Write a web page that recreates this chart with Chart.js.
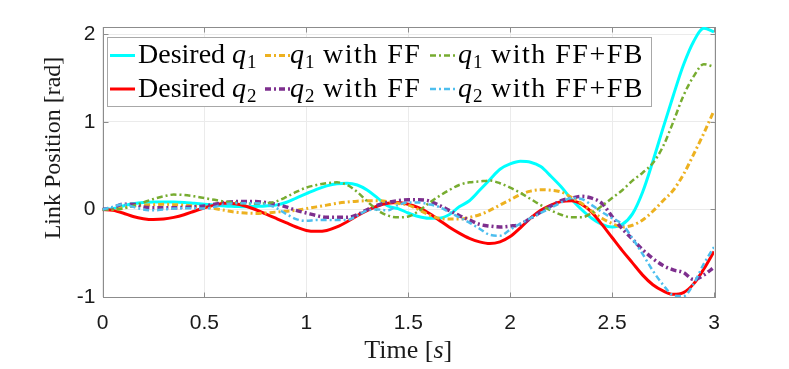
<!DOCTYPE html>
<html>
<head>
<meta charset="utf-8">
<script src="https://cdn.jsdelivr.net/npm/chart.js@4.4.1/dist/chart.umd.min.js"></script>
<style>
  html, body { margin: 0; padding: 0; background: #fff; }
  #wrap { width: 789px; height: 369px; }
</style>
</head>
<body>
<div id="wrap"><canvas id="myChart" width="789" height="369"></canvas></div>
<script>
// time samples [s]
const time = [0, 0.05, 0.1, 0.15, 0.2, 0.25, 0.3, 0.35, 0.4, 0.45, 0.5, 0.55, 0.6, 0.65, 0.7, 0.75, 0.8, 0.85, 0.9, 0.95,
  1.0, 1.05, 1.1, 1.15, 1.2, 1.25, 1.3, 1.35, 1.4, 1.45, 1.5, 1.55, 1.6, 1.65, 1.7, 1.75, 1.8, 1.85, 1.9, 1.95,
  2.0, 2.05, 2.1, 2.15, 2.2, 2.25, 2.3, 2.35, 2.4, 2.45, 2.5, 2.55, 2.6, 2.65, 2.7, 2.75, 2.8, 2.85, 2.9, 2.95, 3.0];

// link positions [rad]
const q1Desired = [0, 0.01, 0.04, 0.065, 0.08, 0.085, 0.085, 0.085, 0.08, 0.07, 0.06, 0.05, 0.04, 0.035, 0.03, 0.035, 0.04, 0.05, 0.08, 0.13,
  0.18, 0.23, 0.27, 0.295, 0.30, 0.28, 0.22, 0.13, 0.04, 0.01, -0.04, -0.08, -0.10, -0.10, -0.06, 0.03, 0.10, 0.22, 0.34, 0.46,
  0.52, 0.55, 0.54, 0.49, 0.38, 0.26, 0.12, 0.0, -0.1, -0.17, -0.2, -0.17, -0.05, 0.2, 0.55, 0.93, 1.3, 1.65, 1.92, 2.07, 2.03];
const q1FF = [0, 0, 0.02, 0.04, 0.05, 0.055, 0.06, 0.055, 0.05, 0.04, 0.03, 0.01, -0.01, -0.03, -0.04, -0.045, -0.04, -0.03, -0.02, -0.01,
  0.01, 0.03, 0.05, 0.07, 0.085, 0.095, 0.1, 0.1, 0.09, 0.07, 0.05, 0.0, -0.06, -0.1, -0.11, -0.11, -0.09, -0.06, -0.01, 0.05,
  0.11, 0.17, 0.21, 0.225, 0.22, 0.2, 0.14, 0.07, -0.02, -0.1, -0.16, -0.2, -0.18, -0.12, -0.02, 0.1, 0.22, 0.4, 0.63, 0.87, 1.13];
const q1FFFB = [0, 0, 0.01, 0.04, 0.08, 0.12, 0.15, 0.17, 0.165, 0.15, 0.13, 0.11, 0.09, 0.08, 0.07, 0.065, 0.07, 0.09, 0.14, 0.2,
  0.25, 0.28, 0.30, 0.31, 0.28, 0.2, 0.09, -0.01, -0.07, -0.09, -0.08, -0.02, 0.07, 0.15, 0.22, 0.28, 0.31, 0.32, 0.33, 0.3,
  0.25, 0.19, 0.12, 0.05, -0.01, -0.06, -0.09, -0.09, -0.04, 0.04, 0.13, 0.22, 0.33, 0.42, 0.53, 0.72, 1.0, 1.3, 1.52, 1.66, 1.63];
const q2Desired = [0, -0.01, -0.04, -0.08, -0.105, -0.115, -0.11, -0.09, -0.06, -0.02, 0.02, 0.05, 0.07, 0.065, 0.04, 0.0, -0.05, -0.1, -0.15, -0.2,
  -0.24, -0.25, -0.24, -0.2, -0.14, -0.07, -0.01, 0.04, 0.07, 0.08, 0.06, 0.02, -0.04, -0.12, -0.2, -0.27, -0.33, -0.37, -0.39, -0.37,
  -0.31, -0.21, -0.1, -0.01, 0.05, 0.09, 0.10, 0.06, -0.03, -0.17, -0.32, -0.47, -0.61, -0.75, -0.86, -0.93, -0.97, -0.95, -0.85, -0.68, -0.48];
const q2FF = [0, 0.02, 0.06, 0.06, 0.03, 0.02, 0.02, 0.02, 0.025, 0.03, 0.04, 0.06, 0.08, 0.09, 0.09, 0.09, 0.08, 0.06, 0.03, -0.01,
  -0.04, -0.07, -0.09, -0.09, -0.09, -0.06, 0.0, 0.05, 0.08, 0.1, 0.11, 0.11, 0.1, 0.05, -0.01, -0.07, -0.12, -0.17, -0.19, -0.2,
  -0.19, -0.17, -0.1, -0.03, 0.04, 0.1, 0.13, 0.15, 0.13, 0.07, -0.08, -0.22, -0.34, -0.46, -0.56, -0.64, -0.69, -0.72, -0.8, -0.75, -0.66];
const q2FFFB = [0, 0.03, 0.06, 0.03, 0.0, -0.01, 0.0, 0.01, 0.015, 0.015, 0.01, 0.03, 0.06, 0.07, 0.07, 0.07, 0.06, 0.02, -0.05, -0.11,
  -0.13, -0.12, -0.12, -0.12, -0.12, -0.07, -0.01, 0.0, -0.01, 0.05, 0.08, 0.08, 0.06, 0.03, -0.03, -0.09, -0.15, -0.22, -0.29, -0.3,
  -0.23, -0.16, -0.1, -0.04, 0.02, 0.08, 0.13, 0.12, 0.05, -0.03, -0.1, -0.17, -0.33, -0.51, -0.7, -0.86, -0.98, -0.99, -0.85, -0.62, -0.43];

const xTicks = [0, 0.5, 1, 1.5, 2, 2.5, 3];
const yTicks = [-1, 0, 1, 2];

const serif = '"Liberation Serif", "DejaVu Serif", serif';
const sans = '"Liberation Sans", Arial, sans-serif';
const dashDot = [6, 3, 2, 3];

function pts(ys) {
  return ys.map((y, i) => ({ x: time[i], y: y }));
}

function makeSet(label, ys, color, width, dash, order) {
  return {
    label: label,
    data: pts(ys),
    borderColor: color,
    backgroundColor: color,
    borderWidth: width,
    borderDash: dash,
    pointRadius: 0,
    fill: false,
    cubicInterpolationMode: 'monotone',
    order: order
  };
}

// draws "Desired q_1" style text: italic q, lowered subscript digit
function richText(c, text, x, base, size, spacing) {
  text.split(/(q_\d)/).forEach(part => {
    if (!part) return;
    if (part.startsWith('q_')) {
      c.letterSpacing = '0px';
      c.font = 'italic ' + size + 'px ' + serif;
      c.fillText('q', x, base);
      x += c.measureText('q').width + 1;
      c.font = Math.round(size * 0.68) + 'px ' + serif;
      c.fillText(part.slice(2), x, base + 5);
      x += c.measureText(part.slice(2)).width;
    } else {
      c.letterSpacing = part.startsWith('Desired') ? '0px' : spacing + 'px';
      c.font = size + 'px ' + serif;
      c.fillText(part, x, base);
      x += c.measureText(part).width;
    }
  });
  c.letterSpacing = '0px';
}

// box legend laid out in a 3 x 2 grid
const boxLegend = {
  id: 'boxLegend',
  afterDatasetsDraw(chart) {
    const c = chart.ctx;
    const cols = [{ line: 110, text: 138 }, { line: 265, text: 290 }, { line: 430, text: 458 }];
    const rows = [{ line: 55.5, base: 63 }, { line: 89, base: 97 }];
    c.save();
    c.fillStyle = '#fff';
    c.fillRect(107.5, 37.5, 544, 69);
    c.strokeStyle = '#a8a8a8';
    c.lineWidth = 1;
    c.setLineDash([]);
    c.strokeRect(107.5, 37.5, 544, 69);
    chart.data.datasets.forEach((ds, i) => {
      const col = cols[i % 3];
      const row = rows[Math.floor(i / 3)];
      c.strokeStyle = ds.borderColor;
      c.lineWidth = ds.borderWidth;
      c.setLineDash(ds.borderDash || []);
      c.beginPath();
      c.moveTo(col.line, row.line);
      c.lineTo(col.line + 25, row.line);
      c.stroke();
      c.setLineDash([]);
      c.fillStyle = '#000';
      c.textBaseline = 'alphabetic';
      c.textAlign = 'left';
      richText(c, ds.label, col.text, row.base, 28, 1.5);
    });
    c.restore();
  }
};

// full axes box with inward ticks, and axis titles
const axesBox = {
  id: 'axesBox',
  beforeDatasetsDraw(chart) {
    const a = chart.chartArea;
    const c = chart.ctx;
    const sx = chart.scales.x;
    const sy = chart.scales.y;
    const L = Math.round(a.left) + 0.5, T = Math.round(a.top) + 0.5;
    const R = L + Math.round(a.right - a.left), B = T + Math.round(a.bottom - a.top);
    c.save();
    c.strokeStyle = '#8c8c8c';
    c.lineWidth = 1;
    c.strokeRect(L, T, R - L, B - T);
    c.beginPath();
    xTicks.forEach(v => {
      const px = Math.round(sx.getPixelForValue(v)) + 0.5;
      c.moveTo(px, B); c.lineTo(px, B - 5);
      c.moveTo(px, T); c.lineTo(px, T + 5);
    });
    yTicks.forEach(v => {
      const py = Math.round(sy.getPixelForValue(v)) + 0.5;
      c.moveTo(L, py); c.lineTo(L + 5, py);
      c.moveTo(R, py); c.lineTo(R - 5, py);
    });
    c.stroke();
    c.restore();
  },
  afterDraw(chart) {
    const a = chart.chartArea;
    const c = chart.ctx;
    c.save();
    c.fillStyle = '#1a1a1a';
    c.textBaseline = 'alphabetic';
    c.textAlign = 'left';
    // x title: Time [s] with italic s
    const partsX = [['Time [', ''], ['s', 'italic '], [']', '']];
    let w = 0;
    partsX.forEach(p => { c.font = p[1] + '26px ' + serif; w += c.measureText(p[0]).width; });
    let x = (a.left + a.right) / 2 - w / 2;
    partsX.forEach(p => { c.font = p[1] + '26px ' + serif; c.fillText(p[0], x, 358); x += c.measureText(p[0]).width; });
    // y title
    c.translate(60, 148);
    c.rotate(-Math.PI / 2);
    c.textAlign = 'center';
    c.font = '24px ' + serif;
    c.fillText('Link Position [rad]', 0, 0);
    c.restore();
  }
};

const ctx = document.getElementById('myChart').getContext('2d');
const myChart = new Chart(ctx, {
  type: 'line',
  data: {
    datasets: [
      makeSet('Desired q_1', q1Desired, '#00ffff', 3, [], 6),
      makeSet('q_1 with FF', q1FF, '#edb120', 3, dashDot, 4),
      makeSet('q_1 with FF+FB', q1FFFB, '#77ac30', 2.5, dashDot, 2),
      makeSet('Desired q_2', q2Desired, '#ff0000', 3, [], 5),
      makeSet('q_2 with FF', q2FF, '#7e2f8e', 3.5, dashDot, 3),
      makeSet('q_2 with FF+FB', q2FFFB, '#4dbeee', 2.5, dashDot, 1)
    ]
  },
  options: {
    responsive: false,
    animation: false,
    layout: { padding: { top: 27, right: 75, left: 0, bottom: 0 } },
    plugins: {
      legend: { display: false },
      tooltip: { enabled: false }
    },
    scales: {
      x: {
        type: 'linear',
        min: 0,
        max: 3,
        afterFit: s => { s.height = 72; },
        afterBuildTicks: s => { s.ticks = xTicks.map(v => ({ value: v })); },
        grid: { color: '#ebebeb', drawTicks: false },
        border: { display: false },
        ticks: {
          padding: 14,
          color: '#1a1a1a',
          font: { family: sans, size: 21 },
          maxRotation: 0,
          callback: v => String(v)
        }
      },
      y: {
        min: -1,
        max: 2.085,
        afterFit: s => { s.width = 102.5; },
        afterBuildTicks: s => { s.ticks = yTicks.map(v => ({ value: v })); },
        grid: { color: '#ebebeb', drawTicks: false },
        border: { display: false },
        ticks: { padding: 7, color: '#1a1a1a', font: { family: sans, size: 21 }, callback: v => String(v) }
      }
    }
  },
  plugins: [axesBox, boxLegend]
});
</script>
</body>
</html>
